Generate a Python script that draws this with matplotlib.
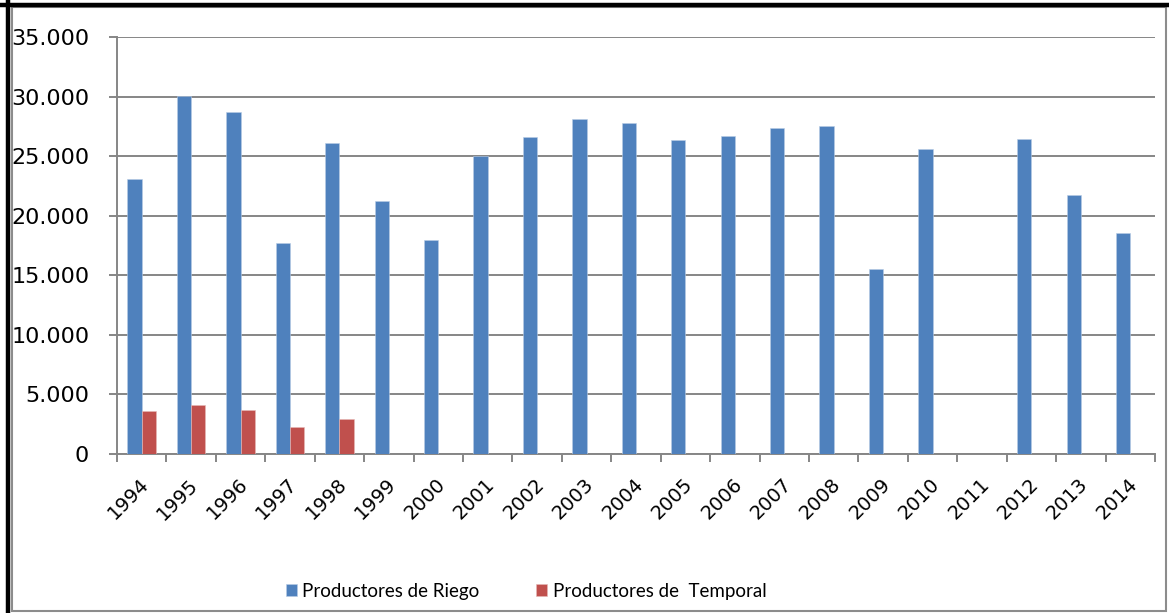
import matplotlib
matplotlib.use("Agg")
import matplotlib.pyplot as plt
import numpy as np
from matplotlib.lines import Line2D
from matplotlib.patches import Rectangle
from matplotlib.ticker import FuncFormatter, FixedLocator

# datos
years = ["1994", "1995", "1996", "1997", "1998", "1999", "2000", "2001", "2002", "2003", "2004",
         "2005", "2006", "2007", "2008", "2009", "2010", "2011", "2012", "2013", "2014"]
riego = [23050, 30050, 28700, 17700, 26070, 21230, 17970, 24980, 26620, 28080, 27750,
         26340, 26730, 27380, 27490, 15560, 25560, 0, 26400, 21760, 18550]
temporal = [3570, 4100, 3680, 2290, 2960, 0, 0, 0, 0, 0, 0,
            0, 0, 0, 0, 0, 0, 0, 0, 0, 0]

BLUE = "#4F81BD"
RED = "#C0504D"
GRID = "#868686"

W, H = 1169, 613
fig = plt.figure(figsize=(W / 100, H / 100), dpi=100)
ax = fig.add_axes([117 / W, 1 - 454 / H, (1155 - 117) / W, (454 - 37) / H])

x = np.arange(len(years))
bw = 0.29
ax.bar(x - bw / 2, riego, bw, color=BLUE, edgecolor="#b9cde5", linewidth=0.4,
       label="Productores de Riego", zorder=3)
ax.bar(x + bw / 2, temporal, bw, color=RED, edgecolor="#e6b9b8", linewidth=0.4,
       label="Productores de  Temporal", zorder=3)

ax.set_xlim(-0.5, len(years) - 0.5)
ax.set_ylim(0, 35000)
ax.set_yticks(np.arange(0, 35001, 5000))
ax.yaxis.set_major_formatter(FuncFormatter(lambda v, p: f"{int(v):,}".replace(",", ".")))
ax.grid(axis="y", color=GRID, linewidth=1.4, zorder=0)

# etiquetas de años y marcas entre categorias
ax.set_xticks(x - 0.05)
ax.set_xticklabels(years, rotation=45, ha="right", rotation_mode="anchor",
                   fontsize=14, family="DejaVu Sans")
ax.tick_params(axis="x", which="major", length=0, pad=15)
ax.xaxis.set_minor_locator(FixedLocator(np.arange(-0.5, len(years), 1.0)))
ax.tick_params(axis="x", which="minor", length=6, width=1.4, color=GRID, direction="out")
ax.tick_params(axis="y", length=6, width=1.4, color=GRID, direction="out", pad=14,
               labelsize=16)
for lab in ax.get_yticklabels():
    lab.set_family("DejaVu Sans")

for s in ["top", "right"]:
    ax.spines[s].set_visible(False)
for s in ["left", "bottom"]:
    ax.spines[s].set_color(GRID)
    ax.spines[s].set_linewidth(1.4)

leg = fig.legend(loc="center", bbox_to_anchor=(526 / W, 1 - 591 / H), ncol=2, frameon=False,
                 prop={"family": ["Lato", "DejaVu Sans"], "size": 13.5},
                 handlelength=0.6, handleheight=0.6, handletextpad=0.3, columnspacing=3.0)

# bordes del recuadro
fig.add_artist(Rectangle((12 / W, 1 - 611 / H), (1166 - 12) / W, (611 - 7) / H,
                         transform=fig.transFigure, fill=False, edgecolor="#8c8c8c", linewidth=1.5))
fig.add_artist(Line2D([0, 1], [1 - 5 / H, 1 - 5 / H], transform=fig.transFigure,
                      color="black", linewidth=3.2))
fig.add_artist(Line2D([8 / W, 8 / W], [0, 1], transform=fig.transFigure,
                      color="black", linewidth=3.2))

fig.savefig("out.png", dpi=100)
